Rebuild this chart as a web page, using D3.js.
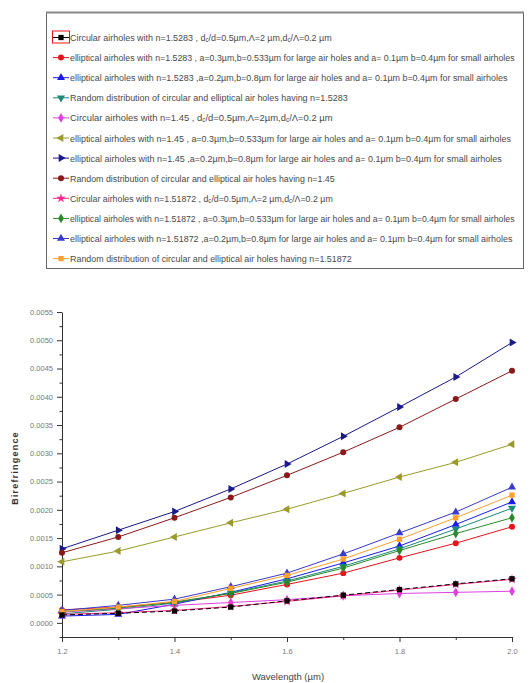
<!DOCTYPE html>
<html>
<head>
<meta charset="utf-8">
<script src="https://d3js.org/d3.v7.min.js"></script>
<style>
    body { margin: 0; background: #fff; }
    .legend-text { font-family: "Liberation Sans", Arial, sans-serif; font-size: 9.5px; fill: #4a4a4a; }
    .tick text { font-family: "Liberation Sans", Arial, sans-serif; font-size: 7.5px; fill: #777; }
    .axis path, .axis line { stroke: #333; stroke-width: 1; }
</style>
</head>
<body>
<svg id="chart" width="530" height="683"></svg>
<script>
    // wavelength (µm)
    const wavelength = [1.2, 1.3, 1.4, 1.5, 1.6, 1.7, 1.8, 1.9, 2.0];

    // birefringence, one array per curve (legend order)
    const circN15283   = [0.00014, 0.00017, 0.00021, 0.00028, 0.00039, 0.00049, 0.00059, 0.00069, 0.00078];
    const ellA3N15283  = [0.00023, 0.00028, 0.00036, 0.00049, 0.00068, 0.00088, 0.00115, 0.00141, 0.00170];
    const ellA2N15283  = [0.00012, 0.00015, 0.00033, 0.00054, 0.00078, 0.00106, 0.00136, 0.00174, 0.00214];
    const randN15283   = [0.00016, 0.00024, 0.00035, 0.00053, 0.00074, 0.00100, 0.00131, 0.00166, 0.00203];
    const circN145     = [0.00019, 0.00025, 0.00031, 0.00036, 0.00041, 0.00048, 0.00052, 0.00054, 0.00056];
    const ellA3N145    = [0.00108, 0.00127, 0.00152, 0.00177, 0.00201, 0.00229, 0.00258, 0.00284, 0.00316];
    const ellA2N145    = [0.00131, 0.00164, 0.00197, 0.00237, 0.00281, 0.00330, 0.00382, 0.00435, 0.00496];
    const randN145     = [0.00124, 0.00152, 0.00186, 0.00222, 0.00261, 0.00302, 0.00346, 0.00396, 0.00446];
    const circN151872  = [0.00015, 0.00018, 0.00022, 0.00029, 0.00038, 0.00048, 0.00058, 0.00068, 0.00077];
    const ellA3N151872 = [0.00020, 0.00026, 0.00037, 0.00052, 0.00072, 0.00097, 0.00128, 0.00158, 0.00186];
    const ellA2N151872 = [0.00022, 0.00031, 0.00042, 0.00064, 0.00088, 0.00122, 0.00159, 0.00196, 0.00240];
    const randN151872  = [0.00020, 0.00028, 0.00038, 0.00061, 0.00084, 0.00113, 0.00148, 0.00186, 0.00226];

    const seriesValues = [circN15283, ellA3N15283, ellA2N15283, randN15283, circN145, ellA3N145,
        ellA2N145, randN145, circN151872, ellA3N151872, ellA2N151872, randN151872];

    const legendLabels = [
        ["Circular airholes with n=1.5283 , d", ["c"], "/d=0.5µm,Λ=2 µm,d", ["c"], "/Λ=0.2 µm"],
        ["elliptical airholes with n=1.5283 , a=0.3µm,b=0.533µm for large air holes and a= 0.1µm b=0.4µm for small airholes"],
        ["elliptical airholes with  n=1.5283 ,a=0.2µm,b=0.8µm for large air holes and a= 0.1µm b=0.4µm for small airholes"],
        ["Random distribution of  circular and elliptical air holes having n=1.5283"],
        ["Circular airholes with n=1.45 , d", ["c"], "/d=0.5µm,Λ=2µm,d", ["c"], "/Λ=0.2 µm"],
        ["elliptical airholes with n=1.45 , a=0.3µm,b=0.533µm for large air holes and a= 0.1µm b=0.4µm for small airholes"],
        ["elliptical airholes with  n=1.45 ,a=0.2µm,b=0.8µm for large air holes and a= 0.1µm b=0.4µm for small airholes"],
        ["Random distribution of  circular and elliptical air holes having n=1.45"],
        ["Circular airholes with n=1.51872 , d", ["c"], "/d=0.5µm,Λ=2 µm,d", ["c"], "/Λ=0.2 µm"],
        ["elliptical airholes with n=1.51872 , a=0.3µm,b=0.533µm for large air holes and a= 0.1µm b=0.4µm for small airholes"],
        ["elliptical airholes with  n=1.51872 ,a=0.2µm,b=0.8µm for large air holes and a= 0.1µm b=0.4µm for small airholes"],
        ["Random distribution of  circular and elliptical air holes having n=1.51872"]
    ];

    const colors = ["#000000", "#e8141c", "#1a1aee", "#1a8a7a", "#e040e0", "#9a9a2a",
        "#1a1a8a", "#8a1a1a", "#ff2a8a", "#2a8a2a", "#3a3acc", "#ffa030"];

    // end of each legend line, in px (texts are very condensed in the original)
    const legendTextEnd = [332, 515, 508, 348, 333, 511, 502, 335, 333, 515, 513, 352];

    const svg = d3.select("#chart");

    const x = d3.scaleLinear().domain([1.2, 2.0]).range([62, 512]);
    const y = d3.scaleLinear().domain([-0.00025, 0.0055]).range([637, 312]);

    // marker shapes, cycled like origin does
    const shapes = [
        {type: d3.symbolSquare, rot: 0},
        {type: d3.symbolCircle, rot: 0},
        {type: d3.symbolTriangle, rot: 0},
        {type: d3.symbolTriangle, rot: 180},
        {type: d3.symbolDiamond, rot: 0},
        {type: d3.symbolTriangle, rot: -90},
        {type: d3.symbolTriangle, rot: 90},
        {type: d3.symbolCircle, rot: 0},
        {type: d3.symbolStar, rot: 0},
        {type: d3.symbolDiamond, rot: 0},
        {type: d3.symbolTriangle, rot: 0},
        {type: d3.symbolSquare, rot: 0}
    ];
    const sym = i => d3.symbol().type(shapes[i].type).size(28)();

    // ---- legend box
    const legend = svg.append("g");
    legend.append("rect")
        .attr("x", 46.5).attr("y", 12.5)
        .attr("width", 477).attr("height", 256)
        .attr("fill", "#fff").attr("stroke", "#666").attr("stroke-width", 1);
    legend.append("line")
        .attr("x1", 46).attr("x2", 524).attr("y1", 12.5).attr("y2", 12.5)
        .attr("stroke", "#888").attr("stroke-width", 2);

    legendLabels.forEach((parts, i) => {
        const cy = 37.5 + i * 20.1;
        const g = legend.append("g");
        g.append("line")
            .attr("x1", 53).attr("x2", 69).attr("y1", cy).attr("y2", cy)
            .attr("stroke", colors[i]).attr("stroke-width", 1);
        g.append("path")
            .attr("d", sym(i))
            .attr("transform", `translate(61,${cy}) rotate(${shapes[i].rot})`)
            .attr("fill", colors[i]);
        if (i === 0) {
            g.append("rect")
                .attr("x", 52.5).attr("y", cy - 6.5)
                .attr("width", 17).attr("height", 12)
                .attr("fill", "none").attr("stroke", "#e8141c").attr("stroke-width", 1);
        }
        // text squeezed horizontally so it keeps its height
        const tg = g.append("g");
        const t = tg.append("text")
            .attr("class", "legend-text")
            .attr("x", 0).attr("y", 0);
        parts.forEach(p => {
            if (Array.isArray(p)) {
                t.append("tspan").attr("font-size", "6.5px").attr("baseline-shift", "-20%").text(p[0]);
            } else {
                t.append("tspan").text(p);
            }
        });
        const natural = t.node().getComputedTextLength();
        const sx = (legendTextEnd[i] - 70) / natural;
        tg.attr("transform", `translate(70,${cy + 3.5}) scale(${sx},1)`);
    });

    // ---- axes
    const yMajor = d3.range(0, 0.00551, 0.0005);
    const yMinor = d3.range(-0.00025, 0.0055, 0.0005);
    svg.append("g").attr("class", "axis")
        .attr("transform", "translate(62,0)")
        .call(d3.axisLeft(y).tickValues(yMinor).tickSize(2.5).tickFormat(""))
        .call(g => g.select(".domain").remove());
    svg.append("g").attr("class", "axis")
        .attr("transform", "translate(62,0)")
        .call(d3.axisLeft(y).tickValues(yMajor).tickSize(5).tickPadding(4).tickSizeOuter(0)
            .tickFormat(d3.format(".4f")));

    const xMajor = [1.2, 1.4, 1.6, 1.8, 2.0];
    const xMinor = [1.3, 1.5, 1.7, 1.9];
    svg.append("g").attr("class", "axis")
        .attr("transform", "translate(0,637)")
        .call(d3.axisBottom(x).tickValues(xMinor).tickSize(3).tickFormat(""))
        .call(g => g.select(".domain").remove());
    svg.append("g").attr("class", "axis")
        .attr("transform", "translate(0,637)")
        .call(d3.axisBottom(x).tickValues(xMajor).tickSize(5).tickPadding(7).tickSizeOuter(0)
            .tickFormat(d3.format(".1f")));

    svg.append("text")
        .attr("x", 288).attr("y", 680)
        .attr("text-anchor", "middle")
        .attr("font-family", "Liberation Sans, Arial, sans-serif")
        .attr("font-size", 9.5).attr("fill", "#444")
        .text("Wavelength (µm)");

    svg.append("text")
        .attr("transform", "translate(18,468) rotate(-90)")
        .attr("text-anchor", "middle")
        .attr("font-family", "Liberation Sans, Arial, sans-serif")
        .attr("font-size", 9).attr("font-weight", "bold")
        .attr("letter-spacing", 1.2).attr("fill", "#333")
        .text("Birefringence");

    // ---- curves
    const line = d3.line().x((d, j) => x(wavelength[j])).y(d => y(d));
    const plot = svg.append("g");
    // draw the first series last so its dashes sit on the pink curve
    const order = [1, 2, 3, 4, 5, 6, 7, 8, 9, 10, 11, 0];
    order.forEach(i => {
        const g = plot.append("g");
        g.append("path")
            .datum(seriesValues[i])
            .attr("d", line)
            .attr("fill", "none")
            .attr("stroke", colors[i])
            .attr("stroke-width", 1)
            .attr("stroke-dasharray", i === 0 ? "5,3" : null);
        g.selectAll("path.pt").data(seriesValues[i]).enter()
            .append("path")
            .attr("class", "pt")
            .attr("d", sym(i))
            .attr("transform", (d, j) => `translate(${x(wavelength[j])},${y(d)}) rotate(${shapes[i].rot})`)
            .attr("fill", colors[i]);
    });
</script>
</body>
</html>
